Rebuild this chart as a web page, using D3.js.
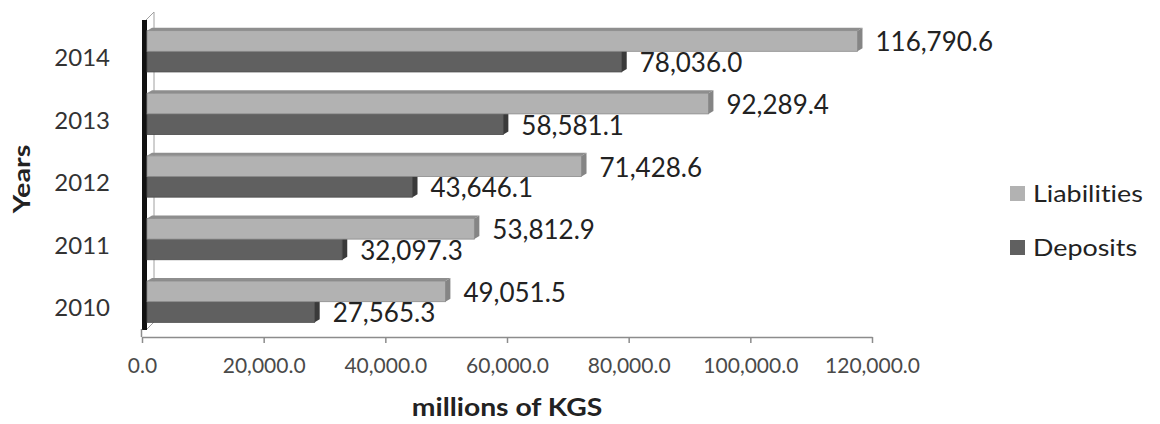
<!DOCTYPE html>
<html>
<head>
<meta charset="utf-8">
<script src="https://cdn.jsdelivr.net/npm/d3@7/dist/d3.min.js"></script>
<style>
  html, body { margin: 0; padding: 0; background: #fff; }
  svg { display: block; }
  text { font-family: Lato, "Open Sans", sans-serif; font-variant-ligatures: none; font-feature-settings: "liga" 0; }
</style>
</head>
<body>
<svg id="chart" width="1160" height="424"></svg>
<script>
// Years shown top to bottom
const years = ["2014", "2013", "2012", "2011", "2010"];
const liabilities = [116790.6, 92289.4, 71428.6, 53812.9, 49051.5];
const deposits = [78036.0, 58581.1, 43646.1, 32097.3, 27565.3];
const seriesNames = ["Liabilities", "Deposits"];
const tickValues = [0, 20000, 40000, 60000, 80000, 100000, 120000];

const svg = d3.select("#chart");
const fmt = d3.format(",.1f");

const x = d3.scaleLinear().domain([0, 120000]).range([142, 872]);
const y0 = d3.scaleBand().domain(years).range([20, 333]).paddingInner(0.34).paddingOuter(0.17);
const y1 = d3.scaleBand().domain(seriesNames).range([0, y0.bandwidth()]);

const depth = { dx: 5, dy: -3 };
const shade = {
  Liabilities: { front: "#b2b2b2", top: "#8e8e8e", side: "#858585", edge: "#8a8a8a" },
  Deposits: { front: "#606060", top: "#505050", side: "#3a3a3a", edge: "#4a4a4a" }
};

// Left wall of the 3-D plot area
const wall = svg.append("g");
wall.append("polyline")
  .attr("points", "146,20 154,12 154,322 147,329")
  .attr("fill", "none").attr("stroke", "#a0a0a0").attr("stroke-width", 1);
wall.append("rect")
  .attr("x", 142).attr("y", 20).attr("width", 5).attr("height", 310)
  .attr("fill", "#111");

// Bottom value axis
const axis = svg.append("g")
  .attr("transform", "translate(0,337)")
  .call(d3.axisBottom(x).tickValues(tickValues).tickFormat(fmt).tickSize(6).tickSizeOuter(0));
axis.select(".domain").attr("stroke", "#8c8c8c").attr("stroke-width", 1.5);
axis.selectAll(".tick line").attr("stroke", "#8c8c8c").attr("stroke-width", 1.5);
axis.selectAll(".tick text")
  .attr("y", 36).attr("dy", 0)
  .attr("font-size", 21).attr("fill", "#4a4a4a")
  .attr("font-family", "Lato, sans-serif");
svg.append("line")
  .attr("x1", 141.5).attr("x2", 141.5).attr("y1", 329).attr("y2", 337)
  .attr("stroke", "#8c8c8c").attr("stroke-width", 1.5);

// 3-D bars: deposits drawn first so the liabilities bar sits over its top face
function drawBar(g, name, value, yTop) {
  const h = y1.bandwidth();
  const xs = x(0) + 5;
  const xe = x(value) + 5;
  const c = shade[name];
  g.append("polygon")
    .attr("points", [[xs, yTop], [xs + depth.dx, yTop + depth.dy], [xe + depth.dx, yTop + depth.dy], [xe, yTop]].join(" "))
    .attr("fill", c.top);
  g.append("rect")
    .attr("x", xs).attr("y", yTop).attr("width", xe - xs).attr("height", h)
    .attr("fill", c.front).attr("stroke", c.edge).attr("stroke-width", 0.8);
  g.append("polygon")
    .attr("points", [[xe, yTop], [xe + depth.dx, yTop + depth.dy], [xe + depth.dx, yTop + h + depth.dy], [xe, yTop + h]].join(" "))
    .attr("fill", c.side);
}

const bars = svg.append("g");
years.forEach((yr, i) => {
  const g = bars.append("g");
  drawBar(g, "Deposits", deposits[i], y0(yr) + y1("Deposits"));
  drawBar(g, "Liabilities", liabilities[i], y0(yr) + y1("Liabilities"));
});

// Value labels
const labels = svg.append("g").attr("font-size", 26).attr("fill", "#222");
years.forEach((yr, i) => {
  [["Liabilities", liabilities[i]], ["Deposits", deposits[i]]].forEach(([name, v]) => {
    labels.append("text")
      .attr("x", x(v) + 23)
      .attr("y", y0(yr) + y1(name) + y1.bandwidth() / 2 + 1)
      .attr("dy", "0.36em")
      .text(fmt(v));
  });
});

// Category labels
svg.append("g").selectAll("text").data(years).join("text")
  .attr("x", 110)
  .attr("y", d => y0(d) + y0.bandwidth() / 2 + 6)
  .attr("dy", "0.36em")
  .attr("text-anchor", "end")
  .attr("font-size", 24).attr("fill", "#333")
  .text(d => d);

// Axis titles
svg.append("text")
  .attr("transform", "translate(30,179) rotate(-90) scale(1.25,1)")
  .attr("text-anchor", "middle")
  .attr("font-size", 23).attr("font-weight", "bold").attr("fill", "#222")
  .text("Years");
svg.append("text")
  .attr("transform", "translate(507,416) scale(1.18,1)")
  .attr("text-anchor", "middle")
  .attr("font-size", 24).attr("font-weight", "bold").attr("fill", "#222")
  .text("millions of KGS");

// Legend
const legend = svg.append("g");
const legendRows = [["Liabilities", 193], ["Deposits", 247]];
legendRows.forEach(([name, cy]) => {
  legend.append("rect")
    .attr("x", 1010).attr("y", cy - 7).attr("width", 15).attr("height", 15)
    .attr("fill", shade[name].front);
  legend.append("text")
    .attr("transform", `translate(1033,${cy}) scale(1.12,1)`)
    .attr("dy", "0.36em")
    .attr("font-size", 24).attr("fill", "#222")
    .text(name);
});
</script>
</body>
</html>
